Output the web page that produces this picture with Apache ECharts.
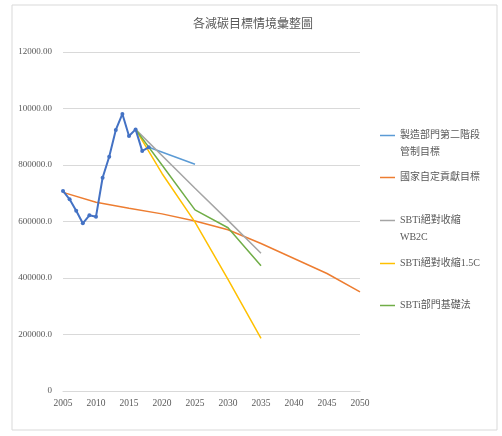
<!DOCTYPE html>
<html>
<head>
	<meta charset="utf-8" />
	<title>各減碳目標情境彙整圖</title>
	<style type="text/css">
	*{margin: 0;padding: 0;}
	html,body{background: #fff;}
	#main{width: 502px;height: 436px;}
	</style>
</head>
<body>
<div id="main"></div>
<script src="https://cdn.jsdelivr.net/npm/echarts@6/dist/echarts.min.js"></script>
<script type="text/javascript">
	// 歷年排放 (no legend entry in the picture)
	var histYears = [2005, 2006, 2007, 2008, 2009, 2010, 2011, 2012, 2013, 2014, 2015, 2016, 2017, 2018];
	var histValues = [708000, 678600, 638300, 593500, 622000, 617000, 755000, 829000, 924000, 980600, 902700, 926000, 850000, 862700];

	var mfgYears = [2018, 2025];
	var mfgValues = [862700, 802500];

	var ndcYears = [2005, 2010, 2015, 2020, 2025, 2030, 2035, 2040, 2045, 2050];
	var ndcValues = [703000, 668000, 647000, 627000, 602000, 571000, 522000, 469000, 416000, 351000];

	var wb2cYears = [2016, 2025, 2030, 2035];
	var wb2cValues = [926000, 717500, 604000, 487500];

	var c15Years = [2016, 2020, 2025, 2030, 2035];
	var c15Values = [926000, 770000, 598000, 395000, 186500];

	var sdaYears = [2016, 2020, 2025, 2030, 2035];
	var sdaValues = [926000, 800000, 641000, 578000, 443000];

	var yTickLabels = ['0', '200000.0', '400000.0', '600000.0', '800000.0', '10000.00', '12000.00'];
	var xTickLabels = ['2005', '2010', '2015', '2020', '2025', '2030', '2035', '2040', '2045', '2050'];

	function pairs(xs, ys) {
		var out = [];
		for (var i = 0; i < xs.length; i++) {
			out.push([xs[i], ys[i]]);
		}
		return out;
	}

	var serif = '"Liberation Serif", "Noto Sans CJK TC", serif';
	var labelColor = '#595959';

	// one legend per entry so each can sit at its own height like Excel does.
	// wrapped names get an empty first line so the icon lines up with the first text line
	function legendAt(name, top, breakAt) {
		return {
			data: [name],
			orient: 'vertical',
			left: 380,
			top: top,
			padding: 0,
			icon: 'rect',
			itemWidth: 15,
			itemHeight: 1.5,
			selectedMode: false,
			formatter: function (n) {
				if (!breakAt) return n;
				return '\n' + n.substring(0, breakAt) + '\n' + n.substring(breakAt);
			},
			textStyle: {
				fontFamily: serif,
				fontSize: 10,
				color: labelColor,
				lineHeight: 17
			}
		};
	}

	var option = {
		backgroundColor: '#fff',
		animation: false,
		title: {
			text: '各減碳目標情境彙整圖',
			left: 188,
			top: 12,
			textStyle: {
				fontFamily: '"Noto Sans CJK TC", sans-serif',
				fontSize: 12,
				fontWeight: 'normal',
				color: labelColor
			}
		},
		graphic: [{
			type: 'rect',
			shape: {x: 12, y: 5, width: 485, height: 425},
			style: {fill: 'none', stroke: '#d9d9d9', lineWidth: 1},
			silent: true,
			z: -1
		}],
		legend: [
			legendAt('製造部門第二階段管制目標', 110, 8),
			legendAt('國家自定貢獻目標', 169),
			legendAt('SBTi絕對收縮WB2C', 195, 8),
			legendAt('SBTi絕對收縮1.5C', 255),
			legendAt('SBTi部門基礎法', 297)
		],
		grid: {
			left: 63,
			top: 52,
			width: 297,
			height: 339
		},
		xAxis: {
			type: 'value',
			min: 2005,
			max: 2050,
			interval: 5,
			axisLine: {show: true, lineStyle: {color: '#d9d9d9'}},
			axisTick: {show: false},
			splitLine: {show: false},
			axisLabel: {
				margin: 8,
				fontFamily: serif,
				fontSize: 9.5,
				color: labelColor,
				formatter: function (v) {
					return xTickLabels[Math.round((v - 2005) / 5)];
				}
			}
		},
		yAxis: {
			type: 'value',
			min: 0,
			max: 1200000,
			interval: 200000,
			axisLine: {show: false},
			axisTick: {show: false},
			splitLine: {lineStyle: {color: '#d9d9d9', width: 1}},
			axisLabel: {
				margin: 11,
				fontFamily: serif,
				fontSize: 9,
				color: labelColor,
				formatter: function (v) {
					return yTickLabels[Math.round(v / 200000)];
				}
			}
		},
		series: [
			{
				name: '歷年排放',
				type: 'line',
				data: pairs(histYears, histValues),
				symbol: 'circle',
				symbolSize: 4,
				itemStyle: {color: '#4472C4'},
				lineStyle: {color: '#4472C4', width: 2},
				z: 5
			},
			{
				name: '製造部門第二階段管制目標',
				type: 'line',
				data: pairs(mfgYears, mfgValues),
				showSymbol: false,
				itemStyle: {color: '#5B9BD5'},
				lineStyle: {color: '#5B9BD5', width: 1.5}
			},
			{
				name: '國家自定貢獻目標',
				type: 'line',
				data: pairs(ndcYears, ndcValues),
				showSymbol: false,
				itemStyle: {color: '#ED7D31'},
				lineStyle: {color: '#ED7D31', width: 1.5}
			},
			{
				name: 'SBTi絕對收縮WB2C',
				type: 'line',
				data: pairs(wb2cYears, wb2cValues),
				showSymbol: false,
				itemStyle: {color: '#A5A5A5'},
				lineStyle: {color: '#A5A5A5', width: 1.5}
			},
			{
				name: 'SBTi絕對收縮1.5C',
				type: 'line',
				data: pairs(c15Years, c15Values),
				showSymbol: false,
				itemStyle: {color: '#FFC000'},
				lineStyle: {color: '#FFC000', width: 1.5}
			},
			{
				name: 'SBTi部門基礎法',
				type: 'line',
				data: pairs(sdaYears, sdaValues),
				showSymbol: false,
				itemStyle: {color: '#70AD47'},
				lineStyle: {color: '#70AD47', width: 1.5}
			}
		]
	};

	var chart = echarts.init(document.getElementById('main'));
	chart.setOption(option);
</script>
</body>
</html>
